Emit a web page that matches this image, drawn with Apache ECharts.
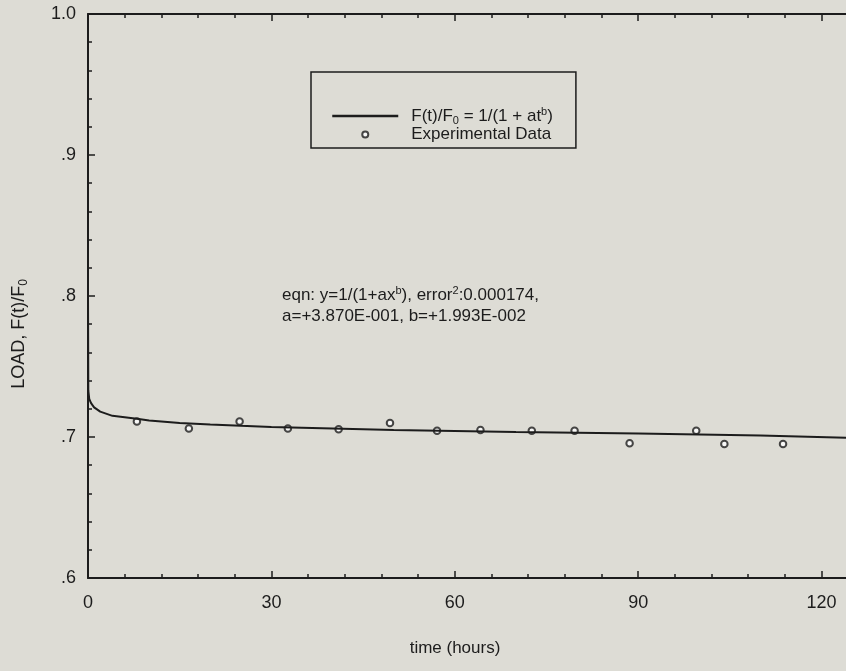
<!DOCTYPE html>
<html>
<head>
<meta charset="utf-8">
<title>Load relaxation</title>
<script src="https://cdn.jsdelivr.net/npm/echarts@6/dist/echarts.min.js"></script>
<style>
  html, body { margin: 0; padding: 0; background: #dddcd5; }
  #chart { width: 846px; height: 671px; }
</style>
</head>
<body>
<div id="chart"></div>
<script>
// Fitted relaxation curve F(t)/F0 = 1/(1 + a t^b), a = 0.387, b = 0.01993
var curveTime = [0, 0, 0.05, 0.2, 0.5, 1, 2, 4, 8, 10, 15, 20, 25, 30, 40, 50, 60, 70, 80, 90, 100, 110, 124];
var curveLoad = [1.0, 0.80, 0.733, 0.727, 0.724, 0.721, 0.718, 0.715, 0.713, 0.7117, 0.710, 0.7088, 0.7079, 0.7071, 0.7060, 0.7050, 0.7043, 0.7036, 0.7030, 0.7024, 0.7018, 0.7010, 0.6995];

// Measured load ratios
var expTime = [8.0, 16.5, 24.8, 32.7, 41.0, 49.4, 57.1, 64.2, 72.6, 79.6, 88.6, 99.5, 104.1, 113.7];
var expLoad = [0.711, 0.706, 0.711, 0.706, 0.7055, 0.710, 0.7045, 0.705, 0.7045, 0.7045, 0.6955, 0.7045, 0.695, 0.695];

// Axis ticks
var xMajor = [0, 30, 60, 90, 120];
var xMinor = [6, 12, 18, 24, 36, 42, 48, 54, 66, 72, 78, 84, 96, 102, 108, 114];
var yMajor = [0.6, 0.7, 0.8, 0.9, 1.0];
var yMinor = [0.62, 0.64, 0.66, 0.68, 0.72, 0.74, 0.76, 0.78, 0.82, 0.84, 0.86, 0.88, 0.92, 0.94, 0.96, 0.98];

var FIT_NAME = 'fit';
var EXP_NAME = 'Experimental Data';

var FONT = '"Liberation Sans", Arial, Helvetica, sans-serif';
var INK = '#1c1c1c';

function pairs(xs, ys) {
  return xs.map(function (x, i) { return [x, ys[i]]; });
}

var supStyle = { fontSize: 11, fontFamily: FONT, color: INK, padding: [0, 0, 9, 0] };
var subStyle = { fontSize: 11, fontFamily: FONT, color: INK, padding: [9, 0, 0, 0] };

function xAxisDef(pos, values, len, showLine, showLabel) {
  return {
    type: 'value', position: pos, min: 0, max: 124,
    axisLine: { show: showLine, onZero: false, lineStyle: { color: INK, width: 2 } },
    axisTick: { show: true, inside: true, length: len, customValues: values, lineStyle: { color: INK, width: 1.5 } },
    axisLabel: { show: showLabel, customValues: xMajor, margin: 16, fontSize: 18, fontFamily: FONT, color: INK },
    splitLine: { show: false }
  };
}

function yAxisDef(values, len, showLine, showLabel) {
  return {
    type: 'value', position: 'left', min: 0.6, max: 1.0,
    axisLine: { show: showLine, onZero: false, lineStyle: { color: INK, width: 2 } },
    axisTick: { show: true, inside: true, length: len, customValues: values, lineStyle: { color: INK, width: 1.5 } },
    axisLabel: {
      show: showLabel, customValues: yMajor, margin: 12, fontSize: 18, fontFamily: FONT, color: INK,
      formatter: function (v) { return v >= 0.999 ? '1.0' : '.' + Math.round(v * 10); }
    },
    splitLine: { show: false }
  };
}

var xs = [
  xAxisDef('bottom', xMajor, 7, true, true),
  xAxisDef('bottom', xMinor, 4, false, false),
  xAxisDef('top', xMajor, 7, true, false),
  xAxisDef('top', xMinor, 4, false, false)
];
xs[0].name = 'time (hours)';
xs[0].nameLocation = 'middle';
xs[0].nameGap = 62;
xs[0].nameTextStyle = { fontSize: 17, fontFamily: FONT, color: INK, padding: [0, 24, 0, 0] };

var ys = [
  yAxisDef(yMajor, 7, true, true),
  yAxisDef(yMinor, 4, false, false)
];
ys[0].name = 'LOAD, F(t)/F{sub|0}';
ys[0].nameLocation = 'middle';
ys[0].nameRotate = 90;
ys[0].nameGap = 58;
ys[0].nameTextStyle = {
  fontSize: 18, fontFamily: FONT, color: INK, padding: [0, 76, 0, 0],
  rich: { sub: { fontSize: 12, fontFamily: FONT, color: INK, padding: [10, 0, 0, 0] } }
};

var chart = echarts.init(document.getElementById('chart'), null, { renderer: 'canvas' });
chart.setOption({
  backgroundColor: '#dddcd5',
  animation: false,
  grid: { left: 88, right: 0, top: 14, bottom: 93, containLabel: false },
  xAxis: xs,
  yAxis: ys,
  legend: {
    orient: 'vertical', left: 311, top: 72,
    padding: [34, 23, 5, 20],
    borderColor: INK, borderWidth: 1.5,
    itemWidth: 66, itemHeight: 6, itemGap: 0,
    textStyle: {
      fontSize: 17, fontFamily: FONT, color: INK, padding: [0, 0, 0, 8],
      rich: { sub: subStyle, sup: supStyle }
    },
    formatter: function (name) {
      return name === FIT_NAME ? 'F(t)/F{sub|0} = 1/(1 + at{sup|b})' : name;
    },
    data: [
      { name: FIT_NAME, itemStyle: { color: 'transparent', borderWidth: 0 }, lineStyle: { width: 2.5, color: INK } },
      { name: EXP_NAME, icon: 'emptyCircle' }
    ]
  },
  graphic: [{
    type: 'text', left: 282, top: 285,
    style: {
      text: 'eqn: y=1/(1+ax{sup|b}), error{sup|2}:0.000174,\na=+3.870E-001, b=+1.993E-002',
      font: '17px ' + FONT, fill: INK, lineHeight: 21,
      rich: { sup: supStyle }
    }
  }],
  series: [
    {
      name: FIT_NAME, type: 'line', xAxisIndex: 0, yAxisIndex: 0,
      data: pairs(curveTime, curveLoad), symbol: 'none', smooth: false,
      lineStyle: { color: INK, width: 2 }, itemStyle: { color: INK }
    },
    {
      name: EXP_NAME, type: 'scatter', xAxisIndex: 0, yAxisIndex: 0,
      data: pairs(expTime, expLoad), symbol: 'emptyCircle', symbolSize: 6.5,
      itemStyle: { color: INK, borderColor: INK, borderWidth: 1.5 }
    }
  ]
});
</script>
</body>
</html>
